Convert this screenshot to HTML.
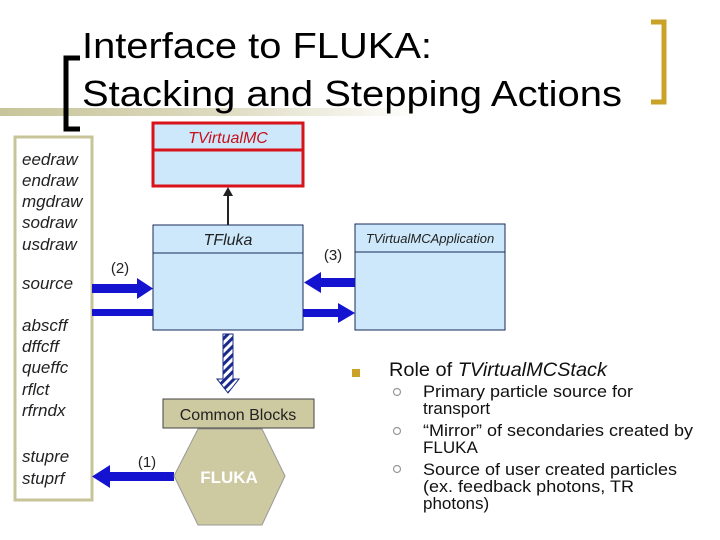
<!DOCTYPE html>
<html><head><meta charset="utf-8"><style>
html,body{margin:0;padding:0;background:#fff;}
svg{display:block;font-family:"Liberation Sans",Arial,sans-serif;}
</style></head><body>
<svg width="720" height="540" viewBox="0 0 720 540" xmlns="http://www.w3.org/2000/svg">
<defs>
<linearGradient id="gl" x1="0" x2="1" y1="0" y2="0">
<stop offset="0" stop-color="#c8c49a"/><stop offset="0.5" stop-color="#dcd9bd"/><stop offset="1" stop-color="#ffffff"/>
</linearGradient>
<pattern id="hatch" width="6" height="6" patternUnits="userSpaceOnUse" patternTransform="rotate(45)">
<rect width="6" height="6" fill="#fff"/><rect width="3" height="6" fill="#1a2a8a"/>
</pattern>
</defs>
<rect x="0" y="108" width="420" height="8" fill="url(#gl)"/>
<!-- black bracket -->
<path d="M80 58 H66 V129 H80" fill="none" stroke="#000" stroke-width="5"/>
<!-- gold bracket -->
<path d="M651 22 H664 V102 H651" fill="none" stroke="#c9a227" stroke-width="5"/>
<text x="82" y="58" font-size="36" textLength="350" lengthAdjust="spacingAndGlyphs">Interface to FLUKA:</text>
<text x="82" y="106" font-size="36" textLength="540" lengthAdjust="spacingAndGlyphs">Stacking and Stepping Actions</text>

<!-- left box -->
<rect x="15" y="137" width="77" height="363" fill="#fff" stroke="#c8c49a" stroke-width="3"/>
<g font-size="17" font-style="italic" fill="#222">
<text x="22" y="165">eedraw</text>
<text x="22" y="186">endraw</text>
<text x="22" y="207">mgdraw</text>
<text x="22" y="228">sodraw</text>
<text x="22" y="250">usdraw</text>
<text x="22" y="289">source</text>
<text x="22" y="331">abscff</text>
<text x="22" y="352">dffcff</text>
<text x="22" y="373">queffc</text>
<text x="22" y="395">rflct</text>
<text x="22" y="416">rfrndx</text>
<text x="22" y="462">stupre</text>
<text x="22" y="484">stuprf</text>
</g>

<!-- TVirtualMC -->
<rect x="153" y="123" width="150" height="63" fill="#cce8fa" stroke="#d8131b" stroke-width="3"/>
<line x1="153" y1="150" x2="303" y2="150" stroke="#d8131b" stroke-width="3"/>
<text x="228" y="143" font-size="16" font-style="italic" fill="#c8101a" text-anchor="middle">TVirtualMC</text>
<line x1="228" y1="225" x2="228" y2="193" stroke="#222" stroke-width="2"/>
<path d="M223 196 L228 187 L233 196 Z" fill="#222"/>

<!-- TFluka -->
<rect x="153" y="225" width="150" height="105" fill="#cce8fa" stroke="#1a2a5a" stroke-width="1"/>
<line x1="153" y1="253" x2="303" y2="253" stroke="#1a2a5a" stroke-width="1"/>
<text x="228" y="245" font-size="16" font-style="italic" fill="#222" text-anchor="middle">TFluka</text>

<!-- TVirtualMCApplication -->
<rect x="355" y="224" width="150" height="106" fill="#cce8fa" stroke="#1a2a5a" stroke-width="1"/>
<line x1="355" y1="252" x2="505" y2="252" stroke="#1a2a5a" stroke-width="1"/>
<text x="430" y="243" font-size="13" font-style="italic" fill="#222" text-anchor="middle">TVirtualMCApplication</text>

<!-- blue arrows -->
<g fill="#1414d0">
<rect x="92" y="284" width="47" height="9"/><path d="M137 278 L153 288.5 L137 299 Z"/>
<rect x="92" y="309" width="61" height="7"/>
<rect x="319" y="278" width="36" height="9"/><path d="M321 272 L304 282.5 L321 293 Z"/>
<rect x="303" y="309" width="37" height="8"/><path d="M338 303 L355 313 L338 323 Z"/>
<rect x="108" y="472" width="66" height="9"/><path d="M110 465 L92 476.5 L110 488 Z"/>
</g>
<text x="120" y="273" font-size="15" fill="#222" text-anchor="middle">(2)</text>
<text x="333" y="260" font-size="15" fill="#222" text-anchor="middle">(3)</text>
<text x="147" y="467" font-size="15" fill="#222" text-anchor="middle">(1)</text>

<!-- hatched arrow -->
<path d="M223 334 H233 V379 H239 L228 393 L217 379 H223 Z" fill="url(#hatch)" stroke="#1a2a8a" stroke-width="1"/>

<!-- Common Blocks -->
<rect x="163" y="399" width="151" height="29" fill="#cdc9a0" stroke="#444" stroke-width="1"/>
<text x="238" y="420" font-size="16" fill="#222" text-anchor="middle">Common Blocks</text>

<!-- FLUKA hexagon -->
<polygon points="174,476 198,429 262,429 285,476 262,525 198,525" fill="#cdc9a0" stroke="#999" stroke-width="1"/>
<text x="229" y="483" font-size="17" font-weight="bold" fill="#fff" text-anchor="middle">FLUKA</text>

<!-- bullets -->
<rect x="352" y="369" width="8" height="8" fill="#c9a227"/>
<text x="389" y="376" font-size="19" fill="#111" textLength="218" lengthAdjust="spacingAndGlyphs">Role of <tspan font-style="italic">TVirtualMCStack</tspan></text>
<g fill="none" stroke="#999" stroke-width="1.2">
<circle cx="397" cy="392" r="3.5"/><circle cx="397" cy="431" r="3.5"/><circle cx="397" cy="469" r="3.5"/>
</g>
<g font-size="17" fill="#111">
<text x="423" y="397" textLength="210" lengthAdjust="spacingAndGlyphs">Primary particle source for</text>
<text x="423" y="414">transport</text>
<text x="423" y="436" textLength="270" lengthAdjust="spacingAndGlyphs">“Mirror” of secondaries created by</text>
<text x="423" y="453">FLUKA</text>
<text x="423" y="475" textLength="254" lengthAdjust="spacingAndGlyphs">Source of user created particles</text>
<text x="423" y="492" textLength="211" lengthAdjust="spacingAndGlyphs">(ex. feedback photons, TR</text>
<text x="423" y="509">photons)</text>
</g>
</svg>
</body></html>
